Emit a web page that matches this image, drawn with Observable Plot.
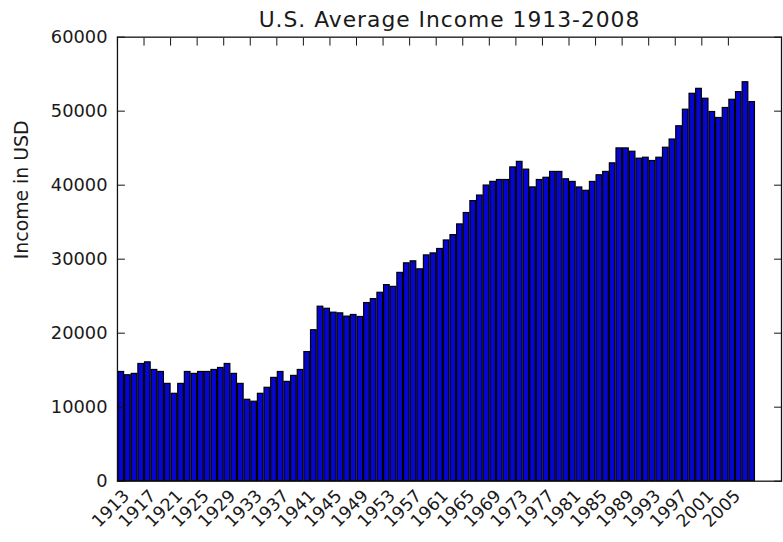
<!DOCTYPE html>
<html>
<head>
<meta charset="utf-8">
<script src="https://cdn.jsdelivr.net/npm/d3@7"></script>
<script src="https://cdn.jsdelivr.net/npm/@observablehq/plot@0.6"></script>
<style>
html, body { margin: 0; padding: 0; background: #fff; overflow: hidden; width: 783px; height: 542px; }
</style>
</head>
<body>
<div id="chart"></div>
<script>
const title = "U.S. Average Income 1913-2008";
const yLabel = "Income in USD";
const years = d3.range(1913, 2009);
const income = [
  14760, 14320, 14500, 15840, 16060, 15030, 14760, 13150, 11810, 13150,
  14760, 14500, 14760, 14760, 15030, 15300, 15840, 14500, 13150, 11000,
  10740, 11810, 12620, 13960, 14760, 13420, 14230, 15030, 17450, 20400,
  23580, 23300, 22770, 22680, 22240, 22460, 22190, 24070, 24600, 25460,
  26490, 26260, 28150, 29440, 29710, 28630, 30510, 30780, 31380, 32530,
  33250, 34700, 36240, 37850, 38600, 39950, 40450, 40700, 40700, 42400,
  43150, 42100, 39700, 40700, 41000, 41790, 41790, 40800, 40440, 39690,
  39240, 40440, 41340, 41790, 42950, 44970, 44970, 44520, 43580, 43710,
  43270, 43710, 45060, 46170, 47960, 50200, 52350, 53020, 51680, 49890,
  49080, 50430, 51540, 52570, 53910, 51230
];
const xTickYears = [1913, 1917, 1921, 1925, 1929, 1933, 1937, 1941, 1945, 1949, 1953, 1957,
                    1961, 1965, 1969, 1973, 1977, 1981, 1985, 1989, 1993, 1997, 2001, 2005];
const yTickValues = [0, 10000, 20000, 30000, 40000, 50000, 60000];

const data = years.map((year, i) => ({year, income: income[i]}));

const plot = Plot.plot({
  width: 790,
  height: 542,
  marginLeft: 118,
  marginRight: 2,
  marginTop: 37,
  marginBottom: 57,
  style: {fontFamily: "DejaVu Sans", fontSize: "18px", color: "#1a1a1a", background: "white"},
  x: {domain: [1913, 2013], axis: null},
  y: {domain: [0, 60000], axis: null},
  marks: [
    Plot.rectY(data, {x: "year", interval: 1, y: "income", fill: "#0606d0", stroke: "#000", strokeWidth: 1.2}),
    Plot.frame({stroke: "#111", strokeWidth: 1.3}),
    Plot.axisY(yTickValues, {anchor: "left", tickSize: 0, tickPadding: 10, tickFormat: d => String(d), label: null, fontSize: 18}),
    Plot.axisY(yTickValues, {anchor: "left", tickSize: 8, dx: 8, tickFormat: () => "", label: null, stroke: "#111"}),
    Plot.axisY(yTickValues, {anchor: "right", tickSize: 8, dx: -8, tickFormat: () => "", label: null, stroke: "#111"}),
    Plot.axisX(xTickYears, {anchor: "top", tickSize: 8, dy: 8, tickFormat: () => "", label: null, stroke: "#111"}),
    Plot.axisX(xTickYears, {anchor: "bottom", tickSize: 0, tickPadding: 6, tickRotate: -45, dx: 9, dy: 6, tickFormat: d => String(d), label: null, fontSize: 17.5}),
    Plot.text([yLabel], {frameAnchor: "left", rotate: -90, dx: -96, fontSize: 19, fill: "#1a1a1a"}),
    Plot.text([title], {frameAnchor: "top", lineAnchor: "bottom", dy: -10, fontSize: 22, fill: "#1a1a1a"})
  ]
});

d3.select(plot).selectAll("text").filter(function() { return this.textContent === title; })
  .style("letter-spacing", "1px");

document.getElementById("chart").appendChild(plot);
</script>
</body>
</html>
